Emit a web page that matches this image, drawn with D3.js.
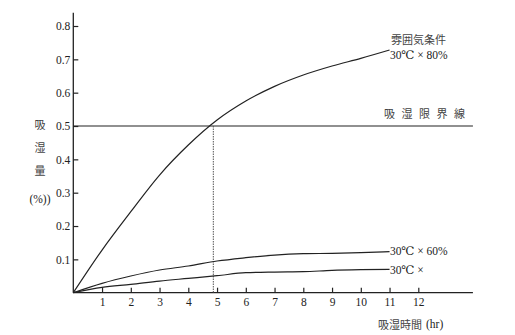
<!DOCTYPE html>
<html lang="ja">
<head>
<meta charset="utf-8">
<title>吸湿量</title>
<script src="https://cdn.jsdelivr.net/npm/d3@7"></script>
<style>
  body { margin: 0; background: #fff; }
  svg text { fill: #222; }
  .num, .num text { font-family: "Liberation Serif", "DejaVu Serif", serif !important; font-size: 11.5px; }
  .jp { font-family: "Noto Sans CJK JP", sans-serif; font-size: 11px; fill: #444; }
</style>
</head>
<body>
<svg width="515" height="335"></svg>
<script>
// hours on the x axis
var hours = [0, 1, 2, 3, 4, 5, 6, 7, 8, 9, 10, 11];
// moisture absorption (%)
var rh80 = [0, 0.128, 0.243, 0.353, 0.443, 0.518, 0.575, 0.619, 0.653, 0.68, 0.703, 0.728];
var rh60 = [0, 0.028, 0.05, 0.068, 0.08, 0.095, 0.105, 0.113, 0.117, 0.118, 0.12, 0.123];
var rhDry = [0, 0.016, 0.025, 0.035, 0.043, 0.051, 0.06, 0.062, 0.063, 0.067, 0.069, 0.07];
var xTicks = [1, 2, 3, 4, 5, 6, 7, 8, 9, 10, 11, 12];
var yTicks = [0.1, 0.2, 0.3, 0.4, 0.5, 0.6, 0.7, 0.8];
var limit = 0.5, limitHour = 4.87;

var svg = d3.select("svg");
var x = d3.scaleLinear().domain([0, 12]).range([73.3, 418.3]);
var y = d3.scaleLinear().domain([0, 0.8]).range([292.7, 26]);

/** axes: ticks point inward, lines run past the last tick */
svg.append("g")
  .attr("transform", "translate(" + x(0) + ",0)")
  .attr("class", "num")
  .call(d3.axisLeft(y).tickValues(yTicks).tickFormat(d3.format(".1f")).tickSize(-5).tickPadding(3))
  .call(g => g.select(".domain").remove())
  .call(g => g.selectAll("line").attr("stroke", "#222").attr("stroke-width", 1.2))
  .call(g => g.selectAll("text").attr("fill", null));

svg.append("g")
  .attr("transform", "translate(0," + y(0) + ")")
  .attr("class", "num")
  .call(d3.axisBottom(x).tickValues(xTicks).tickSize(-5).tickPadding(5))
  .call(g => g.select(".domain").remove())
  .call(g => g.selectAll("line").attr("stroke", "#222").attr("stroke-width", 1.2))
  .call(g => g.selectAll("text").attr("fill", null));

svg.append("line")
  .attr("x1", x(0)).attr("x2", x(0)).attr("y1", y(0)).attr("y2", y(0.84))
  .attr("stroke", "#222").attr("stroke-width", 1.3);
svg.append("line")
  .attr("x1", x(0)).attr("x2", x(13.9)).attr("y1", y(0)).attr("y2", y(0))
  .attr("stroke", "#222").attr("stroke-width", 1.3);

/** limit line and dotted drop */
svg.append("line")
  .attr("x1", x(0)).attr("x2", x(13.9)).attr("y1", y(limit)).attr("y2", y(limit))
  .attr("stroke", "#222").attr("stroke-width", 1.2);
svg.append("line")
  .attr("x1", x(limitHour)).attr("x2", x(limitHour)).attr("y1", y(limit)).attr("y2", y(0))
  .attr("stroke", "#555").attr("stroke-width", 1).attr("stroke-dasharray", "1.5,1");

/** curves */
var line = d3.line()
  .x(function(d, i) { return x(hours[i]); })
  .y(function(d) { return y(d); })
  .curve(d3.curveMonotoneX);

[rh80, rh60, rhDry].forEach(function(s) {
  svg.append("path").datum(s)
    .attr("d", line)
    .attr("fill", "none")
    .attr("stroke", "#222")
    .attr("stroke-width", 1.2);
});

/** labels */
function label(t, px, py, cls, anchor) {
  return svg.append("text").attr("class", cls).attr("x", px).attr("y", py)
    .attr("text-anchor", anchor || "start").attr("dominant-baseline", "central").text(t);
}
label("雰囲気条件", 391, 39, "jp");
label("30℃ × 80%", 390, 55, "num");
label("30℃ × 60%", 390, 251, "num");
label("30℃ ×", 390, 270, "num");
label("吸湿限界線", 384, 113, "jp").attr("letter-spacing", "6.5px");
label("吸湿時間", 378, 324, "jp");
label("(hr)", 426, 324, "num");
label("吸", 40, 124, "jp", "middle");
label("湿", 40, 147, "jp", "middle");
label("量", 40, 170, "jp", "middle");
label("(%))", 40, 199, "num", "middle");
</script>
</body>
</html>
